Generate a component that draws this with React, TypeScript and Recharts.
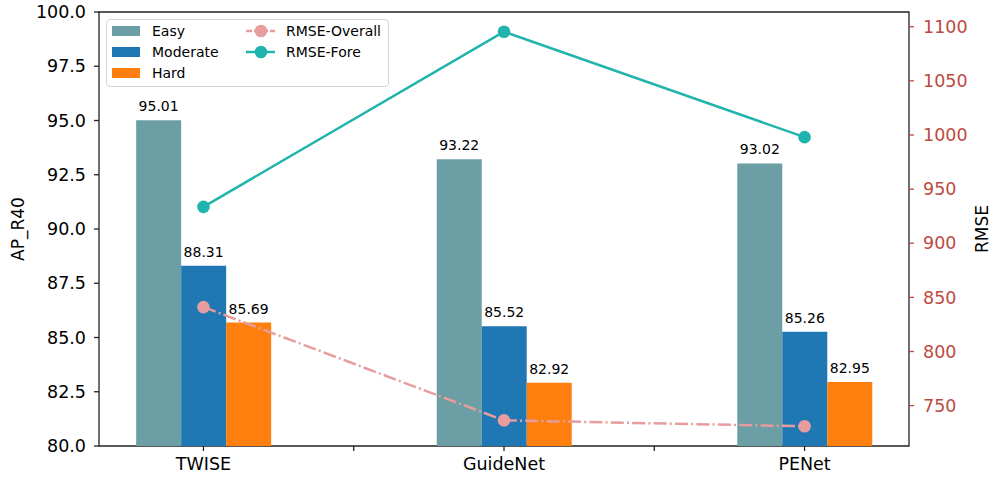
import * as React from "react";
import {
  Bar,
  ComposedChart,
  Label,
  LabelList,
  Line,
  ReferenceArea,
  XAxis,
  YAxis,
} from "recharts";

const methods = ["TWISE", "GuideNet", "PENet"];
const easy = [95.01, 93.22, 93.02];
const moderate = [88.31, 85.52, 85.26];
const hard = [85.69, 82.92, 82.95];
const rmseOverall = [841, 736.4, 730.9];
const rmseFore = [933.6, 1095.4, 998];

const apTicks = [80, 82.5, 85, 87.5, 90, 92.5, 95, 97.5, 100];
const rmseTicks = [750, 800, 850, 900, 950, 1000, 1050, 1100];
const xTicks = [0, 0.5, 1, 1.5, 2];
const xDomain = [-0.3475, 2.3475];
const rmseDomain = [712.7, 1113.6];

const FONT = "'DejaVu Sans', sans-serif";
const RMSE_RED = "#bd4a40";

const barSeries = [
  { key: "easy", name: "Easy", color: "#6b9fa5" },
  { key: "moderate", name: "Moderate", color: "#1f77b4" },
  { key: "hard", name: "Hard", color: "#ff7f0e" },
];

const lineSeries = [
  { key: "overall", name: "RMSE-Overall", color: "#e79c9d", dash: "13 3.2 2 3.2" },
  { key: "fore", name: "RMSE-Fore", color: "#20b4ad", dash: undefined },
];

const rows = methods.map((method, i) => ({
  pos: i,
  method,
  easy: easy[i],
  moderate: moderate[i],
  hard: hard[i],
  overall: rmseOverall[i],
  fore: rmseFore[i],
}));

function axisTitle(text: string, dx: number) {
  return (props: any) => {
    const vb = props.viewBox || {};
    const x = vb.x + dx;
    const y = vb.y + vb.height / 2;
    return (
      <text
        x={x}
        y={y}
        transform={`rotate(-90 ${x} ${y})`}
        textAnchor="middle"
        dominantBaseline="central"
        fontSize={17}
        fontFamily={FONT}
        fill="#000"
      >
        {text}
      </text>
    );
  };
}

function ChartLegend() {
  return (
    <div
      style={{
        position: "absolute",
        left: 106,
        top: 19,
        width: 281,
        height: 66,
        border: "1px solid #d4d4d4",
        borderRadius: 4,
        background: "rgba(255,255,255,0.8)",
      }}
    >
      <svg width={281} height={66} style={{ display: "block" }}>
        {barSeries.map((s, i) => (
          <g key={s.key}>
            <rect x={5} y={6 + i * 21} width={28} height={10} fill={s.color} />
            <text x={45} y={11 + i * 21} dominantBaseline="central" fontSize={14} fontFamily={FONT} fill="#000">
              {s.name}
            </text>
          </g>
        ))}
        {lineSeries.map((s, i) => (
          <g key={s.key}>
            <line
              x1={139}
              x2={168}
              y1={11 + i * 21}
              y2={11 + i * 21}
              stroke={s.color}
              strokeWidth={2.5}
              strokeDasharray={s.dash ? "6 2 2 2" : undefined}
            />
            <circle cx={154} cy={11 + i * 21} r={6.3} fill={s.color} />
            <text x={179} y={11 + i * 21} dominantBaseline="central" fontSize={14} fontFamily={FONT} fill="#000">
              {s.name}
            </text>
          </g>
        ))}
      </svg>
    </div>
  );
}

export default function App() {
  return (
    <div style={{ position: "absolute", left: 0, top: 0, width: 992, height: 479, background: "#fff" }}>
      <ComposedChart
        width={992}
        height={479}
        data={rows}
        barGap={0}
        margin={{ top: 12, right: 0, bottom: 0, left: 0 }}
      >
        <XAxis
          dataKey="pos"
          type="number"
          domain={xDomain}
          ticks={xTicks}
          interval={0}
          allowDataOverflow
          height={33}
          axisLine={false}
          tickSize={5}
          tickMargin={7}
          tickLine={{ stroke: "#222", strokeWidth: 1.3 }}
          tick={{ fill: "#000", fontSize: 17.5, fontFamily: FONT }}
          tickFormatter={(v: number) => (Number.isInteger(v) ? methods[v] : "")}
        />
        <YAxis
          yAxisId="left"
          domain={[80, 100]}
          ticks={apTicks}
          interval={0}
          allowDataOverflow
          width={99}
          axisLine={false}
          tickSize={5}
          tickMargin={8}
          tickLine={{ stroke: "#222", strokeWidth: 1.3 }}
          tick={{ fill: "#000", fontSize: 17.5, fontFamily: FONT }}
          tickFormatter={(v: number) => v.toFixed(1)}
        >
          <Label content={axisTitle("AP_R40", 18)} />
        </YAxis>
        <YAxis
          yAxisId="right"
          orientation="right"
          domain={rmseDomain}
          ticks={rmseTicks}
          interval={0}
          allowDataOverflow
          width={83}
          axisLine={false}
          tickSize={5}
          tickMargin={9}
          tickLine={{ stroke: RMSE_RED, strokeWidth: 1.3 }}
          tick={{ fill: RMSE_RED, fontSize: 17.5, fontFamily: FONT }}
        >
          <Label content={axisTitle("RMSE", 73)} />
        </YAxis>

        {barSeries.map((s) => (
          <Bar
            key={s.key}
            yAxisId="left"
            dataKey={s.key}
            name={s.name}
            fill={s.color}
            barSize={45}
            isAnimationActive={false}
          >
            <LabelList
              dataKey={s.key}
              position="top"
              offset={9}
              fill="#000"
              fontSize={14}
              fontFamily={FONT}
              formatter={(v: any) => Number(v).toFixed(2)}
            />
          </Bar>
        ))}

        {lineSeries.map((s) => (
          <Line
            key={s.key}
            yAxisId="right"
            type="linear"
            dataKey={s.key}
            name={s.name}
            stroke={s.color}
            strokeWidth={2.5}
            strokeDasharray={s.dash}
            dot={{ r: 6.3, fill: s.color, stroke: s.color, strokeWidth: 0 }}
            activeDot={false}
            isAnimationActive={false}
          />
        ))}

        <ReferenceArea
          yAxisId="left"
          x1={xDomain[0]}
          x2={xDomain[1]}
          y1={80}
          y2={100}
          fill="none"
          fillOpacity={0}
          stroke="#222"
          strokeWidth={1.3}
          ifOverflow="visible"
        />
      </ComposedChart>
      <ChartLegend />
    </div>
  );
}
